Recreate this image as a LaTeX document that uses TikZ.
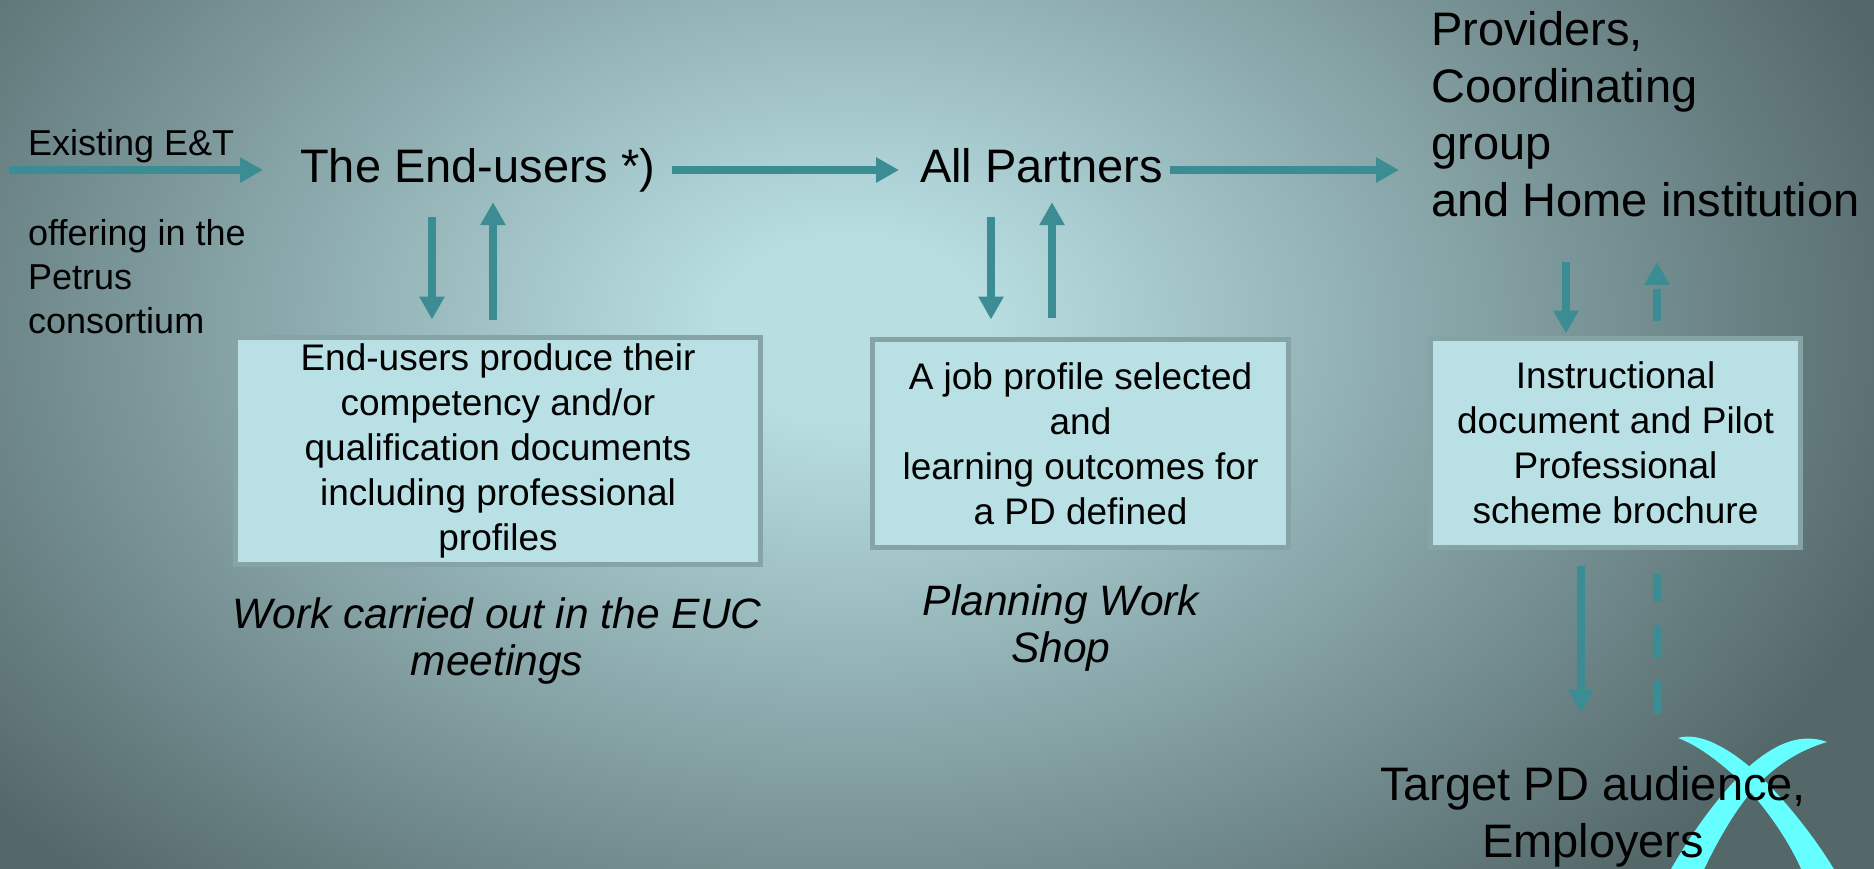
\documentclass[tikz,border=0pt]{standalone}
\usepackage{fontspec}
\setmainfont{Liberation Sans}
\usetikzlibrary{arrows.meta}

\definecolor{bglight}{RGB}{184,222,226}
\definecolor{bgdark}{RGB}{84,104,106}
\definecolor{arrowteal}{RGB}{60,140,147}
\definecolor{panelfill}{RGB}{185,224,228}
\definecolor{paneledge}{RGB}{134,163,166}
\definecolor{crossmark}{RGB}{102,255,255}

\pgfdeclareradialshading{bgglow}{\pgfpoint{0bp}{0bp}}{color(0bp)=(bglight); color(1.5bp)=(bglight); color(12.5bp)=(bgdark); color(50bp)=(bgdark)}

\begin{document}
\begin{tikzpicture}[x=1pt,y=-1pt,
    flow/.style={draw=arrowteal,line width=8pt,-{Triangle[length=23pt,width=24pt]}},
    back/.style={dash pattern=on 32pt off 24pt},
    heading/.style={inner sep=0pt,font=\fontsize{47}{57}\selectfont},
    oneline/.style={text height=34pt,text depth=10pt},
    small/.style={inner sep=0pt,font=\fontsize{36}{44}\selectfont},
    panel/.style={draw=paneledge,fill=panelfill,line width=5pt,inner sep=0pt,
        align=center,font=\fontsize{37}{45}\selectfont},
    remark/.style={inner sep=0pt,align=center,font=\fontsize{42.5}{47}\selectfont\itshape}]

    \useasboundingbox (0,0) rectangle (1874,868);
    \fill[bgdark] (0,0) rectangle (1874,868);
    \begin{scope}
        \clip (0,0) rectangle (1874,868);
        \shade[shading=bgglow] (850,330) ellipse [x radius=2200pt, y radius=1520pt];
    \end{scope}

    \def\armDown{(1678,738) .. controls (1700,731) and (1735,750) .. (1767,783)
        .. controls (1795,812) and (1820,845) .. (1838,876) -- (1804,876)
        .. controls (1792,845) and (1765,805) .. (1737,778)
        .. controls (1717,760) and (1697,745) .. cycle};
    \def\armUp{(1827,742) .. controls (1800,732) and (1775,745) .. (1753,763)
        .. controls (1720,792) and (1690,835) .. (1667,876) -- (1701,876)
        .. controls (1715,845) and (1735,810) .. (1753,790)
        .. controls (1775,765) and (1800,750) .. cycle};
    \fill[crossmark] \armDown;
    \fill[crossmark] \armUp;

    \node[small,anchor=base west] (existing) at (28,155) {Existing E\&T};
    \node[small,anchor=north west,align=left] (offering) at (28,219)
        {offering in the\\Petrus\\consortium};
    \node[heading,oneline,anchor=base west] (enduser) at (300,182) {The End-users *)};
    \node[heading,oneline,anchor=base west] (partners) at (920,182) {All Partners};
    \node[heading,anchor=north west,align=left] (providers) at (1431,11)
        {Providers,\\Coordinating\\group\\and Home institution};
    \node[heading,anchor=north,align=center] (target) at (1593,766)
        {Target PD audience,\\Employers};

    \node[panel,minimum width=525pt,minimum height=227pt] (euBox) at (498,451)
        {End-users produce their\\competency and/or\\qualification documents\\including professional\\profiles};
    \node[panel,minimum width=416pt,minimum height=208pt] (wsBox) at (1080.5,443.5)
        {A job profile selected\\and\\learning outcomes for\\a PD defined};
    \node[panel,minimum width=370pt,minimum height=209pt] (pilotBox) at (1615.5,443)
        {Instructional\\document and Pilot\\Professional\\scheme brochure};

    \node[remark,anchor=north] (euNote) at (497,597.6) {Work carried out in the EUC\\meetings};
    \node[remark,anchor=north] (wsNote) at (1061,584.6) {Planning Work\\Shop};

    \coordinate (etIn) at (9,170);
    \coordinate (euDown) at ([xshift=-66pt]euBox.north);
    \coordinate (euUp) at ([xshift=-5pt]euBox.north);
    \coordinate (wsDown) at ([xshift=-89.5pt]wsBox.north);
    \coordinate (wsUp) at ([xshift=-28.5pt]wsBox.north);
    \coordinate (pilotDown) at ([xshift=-49.5pt]pilotBox.north);
    \coordinate (pilotUp) at ([xshift=41.5pt]pilotBox.north);
    \coordinate (tgDown) at ([xshift=-34.5pt]pilotBox.south);
    \coordinate (tgUp) at ([xshift=41.5pt]pilotBox.south);

    \draw[flow,shorten >=37pt] (etIn) -- (enduser.west);
    \draw[flow,shorten <=16pt,shorten >=21pt] (enduser.east) -- (partners.west);
    \draw[flow,shorten <=7pt,shorten >=32pt] (partners.east) -- (partners.east -| providers.west);

    \draw[flow,shorten <=25pt,shorten >=15.5pt] (enduser.south -| euDown) -- (euDown);
    \draw[flow,shorten <=15.5pt,shorten >=10pt] (euUp) -- (enduser.south -| euUp);
    \draw[flow,shorten <=25pt,shorten >=17.5pt] (partners.south -| wsDown) -- (wsDown);
    \draw[flow,shorten <=19.5pt,shorten >=10pt] (wsUp) -- (partners.south -| wsUp);
    \draw[flow,shorten <=45pt,shorten >=2.5pt] (providers.south -| pilotDown) -- (pilotDown);
    \draw[flow,back,shorten <=15.5pt,shorten >=45pt] (pilotUp) -- (providers.south -| pilotUp);

    \draw[flow,shorten <=15.5pt,shorten >=53pt] (tgDown) -- (target.north -| tgDown);
    \draw[draw=arrowteal,line width=8pt,back,shorten <=52pt,shorten >=23.5pt]
        (target.north -| tgUp) -- (tgUp);

\end{tikzpicture}
\end{document}
